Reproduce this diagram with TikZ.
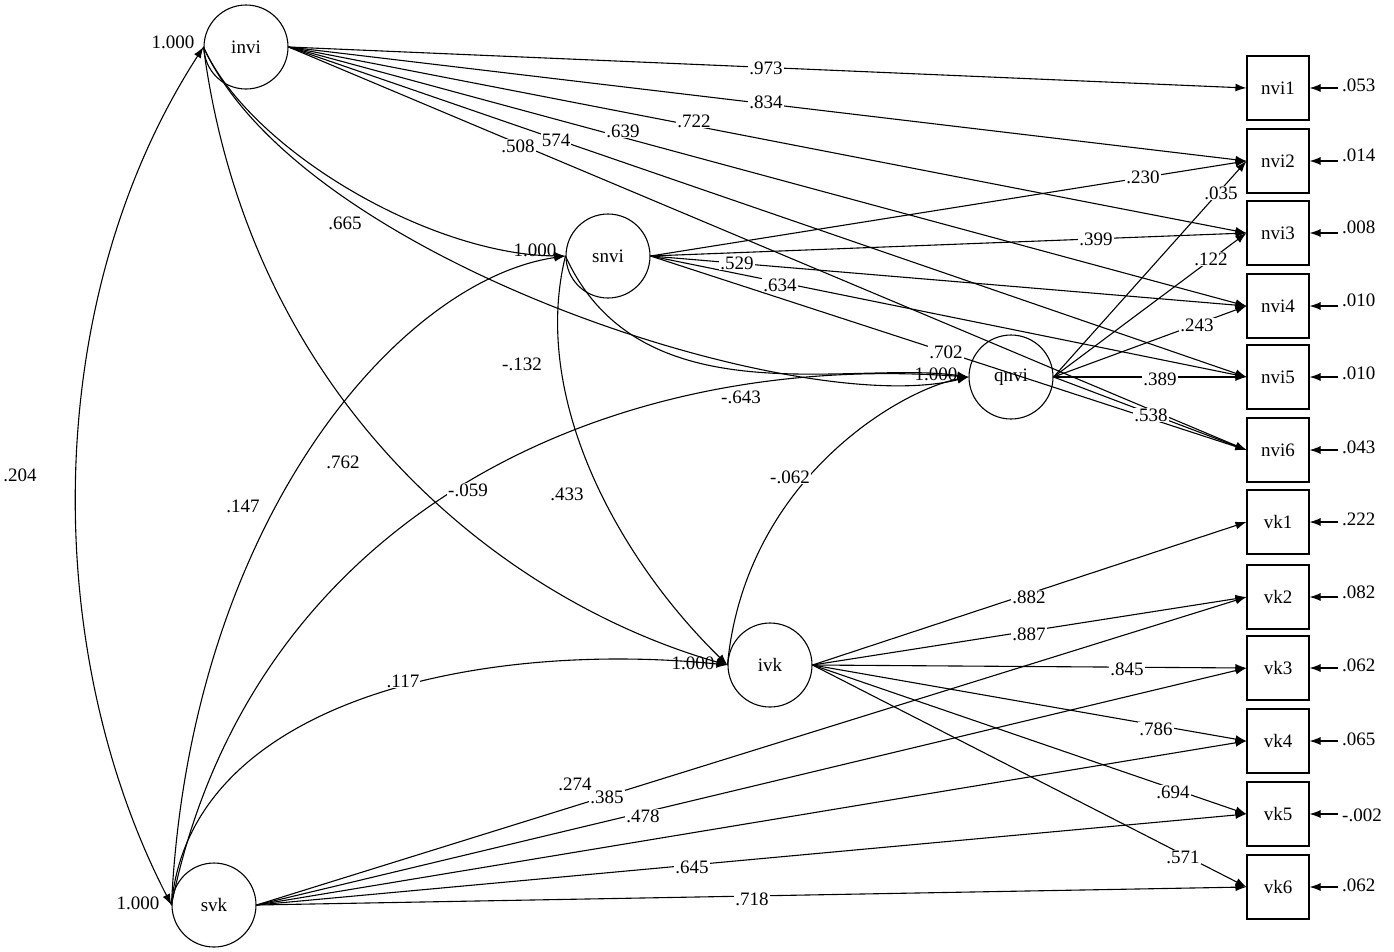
\documentclass[tikz,border=0pt]{standalone}
\usepackage{fontspec}
\setmainfont{Liberation Serif}
\usetikzlibrary{arrows.meta}
\begin{document}
\begin{tikzpicture}[x=1pt,y=-1pt,
  lat/.style={circle,draw,line width=1.1pt,minimum size=84pt,inner sep=0pt,font=\fontsize{19}{21}\selectfont},
  obs/.style={rectangle,draw,line width=1.1pt,minimum width=62pt,minimum height=64pt,inner sep=0pt,font=\fontsize{19}{21}\selectfont},
  lab/.style={fill=white,inner sep=1pt,font=\fontsize{19}{21}\selectfont},
  txt/.style={inner sep=1pt,font=\fontsize{19}{21}\selectfont},
  arr/.style={-{Latex[length=11pt,width=8pt]},line width=1.1pt},
  barr/.style={{Latex[length=11pt,width=8pt]}-{Latex[length=11pt,width=8pt]},line width=1.1pt}]
\useasboundingbox (0,0) rectangle (1394,951);
\node[lat] (invi) at (246,47) {invi};
\node[lat] (snvi) at (608,256) {snvi};
\node[lat] (qnvi) at (1011,377) {qnvi};
\node[lat] (ivk) at (770,665) {ivk};
\node[lat] (svk) at (214,905) {svk};
\foreach \n/\y in {nvi1/88,nvi2/161,nvi3/233,nvi4/306,nvi5/377,nvi6/450,vk1/522,vk2/597,vk3/668,vk4/741,vk5/814,vk6/887}{
  \node[obs] (\n) at (1278,\y) {\n};
  \coordinate (e\n) at (1338,\y);
  \draw[arr] (e\n) -- (\n.east);
}
\foreach \y/\t in {85/.053,155/.014,227/.008,300/.010,373/.010,447/.043,519/.222,592/.082,665/.062,739/.065,815/-.002,885/.062}
  \node[txt,anchor=west] at (1341,\y) {\t};
\foreach \t in {nvi1,nvi2,nvi3,nvi4,nvi5,nvi6} \draw[arr] (invi.east) -- (\t.west);
\foreach \t in {nvi2,nvi3,nvi4,nvi5,nvi6} \draw[arr] (snvi.east) -- (\t.west);
\foreach \t in {nvi2,nvi3,nvi4,nvi5,nvi6} \draw[arr] (qnvi.east) -- (\t.west);
\foreach \t in {vk1,vk2,vk3,vk4,vk5,vk6} \draw[arr] (ivk.east) -- (\t.west);
\foreach \t in {vk2,vk3,vk4,vk5,vk6} \draw[arr] (svk.east) -- (\t.west);
\draw[arr] (invi.west) .. controls (250,150) and (430,255) .. (snvi.west);
\draw[arr] (invi.west) .. controls (300,260) and (800,420) .. (qnvi.west);
\draw[arr] (invi.west) .. controls (250,400) and (500,600) .. (ivk.west);
\draw[arr] (snvi.west) .. controls (530,400) and (620,560) .. (ivk.west);
\draw[arr] (snvi.west) .. controls (640,420) and (850,360) .. (qnvi.west);
\draw[arr] (svk.west) .. controls (190,520) and (400,280) .. (snvi.west);
\draw[arr] (svk.west) .. controls (250,520) and (600,350) .. (qnvi.west);
\draw[arr] (svk.west) .. controls (190,700) and (480,640) .. (ivk.west);
\draw[arr] (ivk.west) .. controls (745,480) and (900,390) .. (qnvi.west);
\draw[barr] (invi.west) .. controls (40,300) and (40,650) .. (svk.west);
\foreach \x/\y/\t in {766/68/.973,766/102/.834,694/121/.722,623/131/.639,556/140/574,518/146/.508,
 1143/177/.230,1096/239/.399,737/263/.529,780/285/.634,946/352/.702,
 1221/193/.035,1211/259/.122,1197/325/.243,1160/379/.389,1151/415/.538,
 345/223/.665,741/397/-.643,343/462/.762,522/364/-.132,468/490/-.059,243/506/.147,567/494/.433,403/681/.117,790/477/-.062,
 1029/597/.882,1029/634/.887,1127/669/.845,1156/729/.786,1173/792/.694,1183/857/.571,
 575/784/.274,607/797/.385,643/816/.478,692/867/.645,752/899/.718}
  \node[lab] at (\x,\y) {\t};
\node[txt] at (20,475) {.204};
\node[txt] at (173,42) {1.000};
\node[txt] at (535,250) {1.000};
\node[txt] at (936,374) {1.000};
\node[txt] at (693,663) {1.000};
\node[txt] at (138,903) {1.000};
\end{tikzpicture}
\end{document}
